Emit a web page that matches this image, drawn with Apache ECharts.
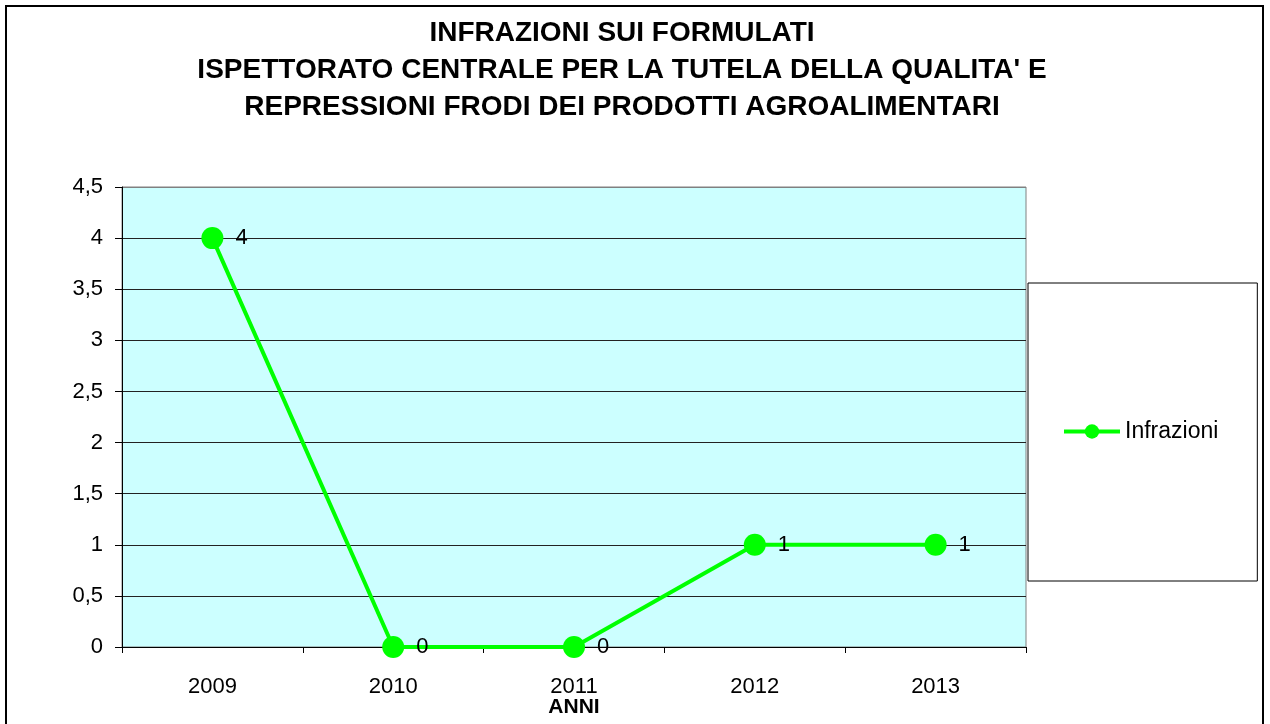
<!DOCTYPE html>
<html>
<head>
<meta charset="utf-8">
<script src="https://cdn.jsdelivr.net/npm/echarts@6/dist/echarts.min.js"></script>
<style>
  html, body { margin: 0; padding: 0; background: #fff; }
  #chart { width: 1270px; height: 724px; }
</style>
</head>
<body>
<div id="chart"></div>
<script>
const years = ['2009', '2010', '2011', '2012', '2013'];
const infrazioni = [4, 0, 0, 1, 1];
const titleLines = [
  'INFRAZIONI SUI FORMULATI',
  "ISPETTORATO CENTRALE PER LA TUTELA DELLA QUALITA' E",
  'REPRESSIONI FRODI DEI PRODOTTI AGROALIMENTARI'
];

const font = '"Liberation Sans", Arial, sans-serif';
const chart = echarts.init(document.getElementById('chart'));

// grid lines: dark, the top one is the grey plot border
const gridColors = ['#000', '#222', '#222', '#222', '#222', '#222', '#222', '#222', '#222', '#808080'];

const option = {
  backgroundColor: '#fff',
  animation: false,
  title: {
    text: titleLines.join('\n'),
    left: 622,
    textAlign: 'center',
    top: 15,
    padding: 0,
    textStyle: {
      fontFamily: font,
      fontWeight: 'bold',
      fontSize: 28,
      lineHeight: 37,
      color: '#000'
    }
  },
  graphic: [{
    type: 'rect',
    shape: { x: 6, y: 6, width: 1257, height: 740 },
    style: { fill: 'none', stroke: '#000', lineWidth: 2 },
    silent: true
  }],
  legend: {
    left: 1028,
    top: 283,
    padding: [137, 39, 138, 34],
    borderColor: '#000',
    borderWidth: 1,
    itemWidth: 56,
    itemHeight: 18,
    itemGap: 0,
    lineStyle: { width: 4, color: '#00FF00' },
    textStyle: { fontFamily: font, fontSize: 23, color: '#000' },
    data: ['Infrazioni']
  },
  grid: {
    left: 122,
    right: 244,
    top: 187,
    bottom: 77,
    outerBoundsMode: 'none',
    show: true,
    backgroundColor: '#CCFFFF',
    borderColor: '#808080',
    borderWidth: 1
  },
  xAxis: {
    type: 'category',
    data: years,
    boundaryGap: true,
    name: 'ANNI',
    nameLocation: 'middle',
    nameGap: 50,
    nameMoveOverlap: false,
    nameTextStyle: { fontFamily: font, fontWeight: 'bold', fontSize: 21, color: '#000' },
    axisLine: { lineStyle: { color: '#000', width: 1 } },
    axisTick: { show: true, length: 6, lineStyle: { color: '#000' } },
    axisLabel: { fontFamily: font, fontSize: 22, color: '#000', margin: 29 }
  },
  yAxis: {
    type: 'value',
    min: 0,
    max: 4.5,
    interval: 0.5,
    axisLine: { show: true, lineStyle: { color: '#000', width: 1 } },
    axisTick: { show: true, length: 7, lineStyle: { color: '#000' } },
    axisLabel: {
      fontFamily: font, fontSize: 22, color: '#000', margin: 19,
      formatter: v => String(v).replace('.', ',')
    },
    splitLine: { show: true, lineStyle: { color: gridColors, width: 1 } }
  },
  series: [{
    name: 'Infrazioni',
    type: 'line',
    data: infrazioni,
    symbol: 'circle',
    symbolSize: 22,
    color: '#00FF00',
    lineStyle: { color: '#00FF00', width: 4 },
    itemStyle: { color: '#00FF00' },
    label: {
      show: true,
      position: 'right',
      distance: 12,
      fontFamily: font,
      fontSize: 22,
      color: '#000'
    }
  }]
};

chart.setOption(option);
</script>
</body>
</html>
